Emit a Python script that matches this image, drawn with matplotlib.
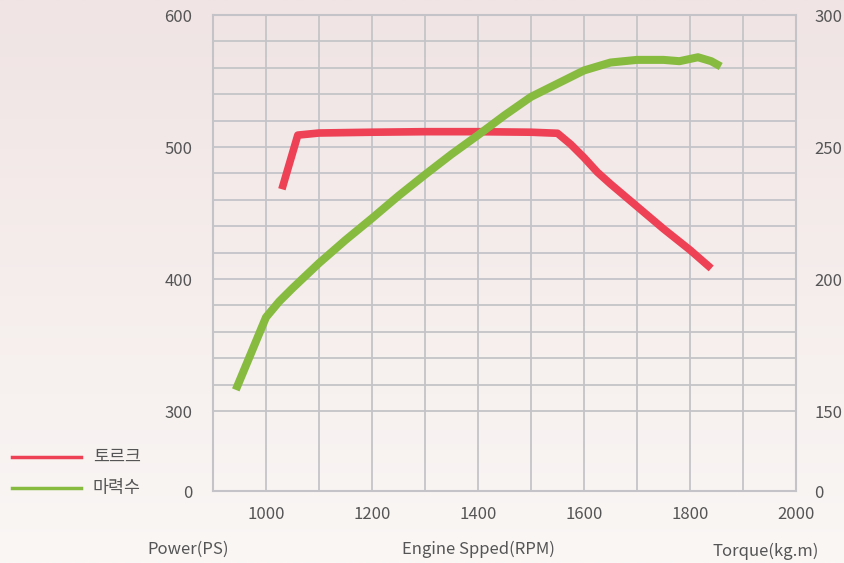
import matplotlib

matplotlib.use("Agg")
import matplotlib.pyplot as plt
import numpy as np

plt.rcParams["font.family"] = ["Noto Sans CJK KR", "DejaVu Sans"]

RED, GREEN, GRID, TXT = "#ee4155", "#86bb40", "#c4c4c8", "#555555"

# engine speed (rpm) and torque (kg.m), right axis
torque_rpm = [1030, 1060, 1100, 1200, 1300, 1400, 1500, 1550, 1575, 1600, 1625, 1650, 1700, 1750, 1800, 1840]
torque_kgm = [234, 254.5, 255.3, 255.6, 255.8, 255.8, 255.6, 255.2, 251, 246, 240.5, 236, 227.5, 219, 211, 204]

# engine speed (rpm) and power (PS), left axis
power_rpm = [943, 1000, 1025, 1050, 1100, 1150, 1200, 1250, 1300, 1350, 1400, 1450, 1500, 1550,
             1600, 1650, 1700, 1750, 1780, 1815, 1840, 1858]
power_ps = [316, 371, 383, 393, 412, 429.5, 446, 463, 479, 494.5, 509, 524, 538, 548,
            558, 564, 566, 566, 565, 568, 565, 561]

x_ticks = [1000, 1200, 1400, 1600, 1800, 2000]
left_ticks = ["0", "300", "400", "500", "600"]
right_ticks = ["0", "150", "200", "250", "300"]

# the value axis is broken: 0 sits just below 300
Y_BOTTOM = 300 - 80 / 1.32

fig = plt.figure(figsize=(8.45, 5.63), dpi=100)

# soft pink-to-white background
bg = fig.add_axes((0, 0, 1, 1), zorder=-10)
grad = np.linspace(0, 1, 256).reshape(-1, 1)
top, bottom = np.array([240, 228, 228]) / 255, np.array([250, 247, 245]) / 255
img = top + (bottom - top) * grad[..., None]
bg.imshow(img, aspect="auto", extent=(0, 1, 0, 1))
bg.axis("off")

ax = fig.add_axes((213 / 845, 1 - 491 / 563, 583 / 845, 476 / 563))
ax.patch.set_alpha(0)
ax.set_xlim(900, 2000)
ax.set_ylim(Y_BOTTOM, 600)

for xv in range(900, 2001, 100):
    ax.axvline(xv, color=GRID, lw=1.3, zorder=1)
for yv in range(300, 601, 20):
    ax.axhline(yv, color=GRID, lw=1.3, zorder=1)
for sp in ax.spines.values():
    sp.set_color(GRID)
    sp.set_linewidth(1.5)

ax.set_xticks(x_ticks)
ax.set_xticklabels([str(v) for v in x_ticks])
ax.set_yticks([Y_BOTTOM, 300, 400, 500, 600])
ax.set_yticklabels(left_ticks)
ax.tick_params(length=0, labelsize=12, colors=TXT, pad=15)
ax.tick_params(axis="x", pad=11)

ax2 = ax.twinx()
ax2.set_ylim(Y_BOTTOM / 2, 300)
ax2.set_yticks([Y_BOTTOM / 2, 150, 200, 250, 300])
ax2.set_yticklabels(right_ticks)
ax2.tick_params(length=0, labelsize=12, colors=TXT, pad=13)
for sp in ax2.spines.values():
    sp.set_visible(False)

ax2.plot(torque_rpm, torque_kgm, color=RED, lw=5.5, solid_capstyle="butt",
         solid_joinstyle="round", zorder=3)
ax3 = ax.twinx()
ax3.set_ylim(Y_BOTTOM, 600)
ax3.axis("off")
ax3.plot(power_rpm, power_ps, color=GREEN, lw=5.8, solid_capstyle="butt",
         solid_joinstyle="round", zorder=4)

# axis captions
fig.text(188 / 845, 1 - 549 / 563, "Power(PS)", ha="center", va="center", fontsize=12, color=TXT)
fig.text(478 / 845, 1 - 549 / 563, "Engine Spped(RPM)", ha="center", va="center", fontsize=12, color=TXT)
fig.text(766 / 845, 1 - 551 / 563, "Torque(kg.m)", ha="center", va="center", fontsize=12, color=TXT)

# legend at the left
for ypix, col, lab in [(457, RED, "토르크"), (488, GREEN, "마력수")]:
    yf = 1 - ypix / 563
    fig.add_artist(plt.Line2D([12 / 845, 81 / 845], [yf, yf], color=col, lw=2.5))
    fig.text(93 / 845, yf, lab, ha="left", va="center", fontsize=12.5, color=TXT)

fig.savefig("out.png", dpi=100)
